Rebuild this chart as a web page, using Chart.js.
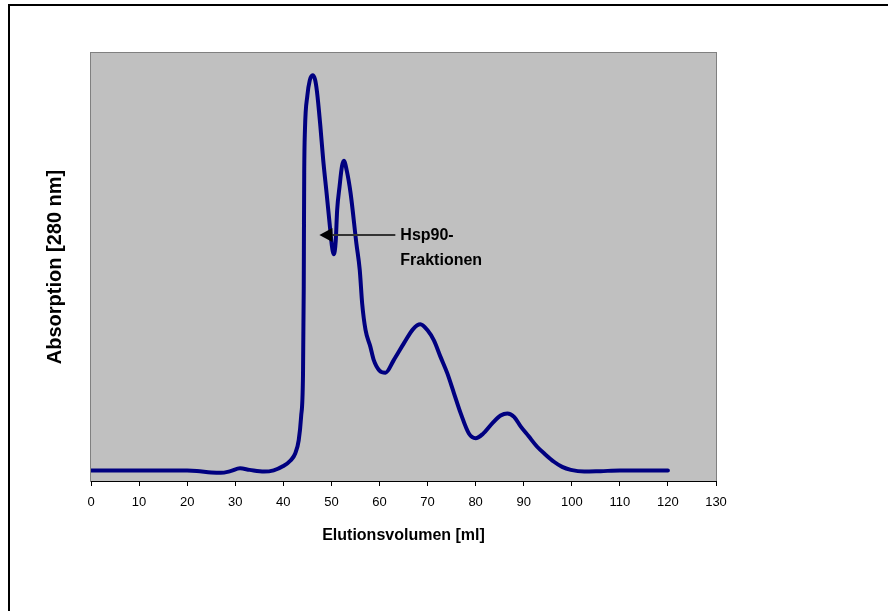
<!DOCTYPE html>
<html>
<head>
<meta charset="utf-8">
<script src="https://cdn.jsdelivr.net/npm/chart.js@4/dist/chart.umd.min.js"></script>
<style>
  html, body { margin: 0; padding: 0; background: #fff; }
  #wrap { width: 888px; height: 611px; position: relative; }
</style>
</head>
<body>
<div id="wrap"><canvas id="c" width="888" height="611"></canvas></div>
<script>
// ---- data ----
const elutionVolume = [0, 5, 10, 15, 20, 22, 25, 27, 29, 31, 33, 36, 38, 40, 41.5, 42.5, 43.2, 43.7, 44.1, 44.25, 44.3, 44.35, 44.5, 45, 45.5, 46.1, 46.6, 47, 47.7, 48.3, 49, 49.7, 50.1, 50.5, 50.9, 51.2, 51.7, 52.2, 52.6, 53.2, 54, 55.2, 55.9, 56.4, 57.1, 58.1, 58.8, 60, 61.25, 63, 65.1, 67, 68.5, 70, 71.3, 72.7, 74.1, 75.5, 76.9, 78.6, 80, 81.5, 83.5, 85.2, 86.6, 88, 89.4, 91, 92.8, 94.5, 96.3, 98, 99.8, 102.6, 106, 110, 115, 120];
const absorption    = [2.45, 2.45, 2.45, 2.45, 2.45, 2.35, 2.0, 1.9, 2.3, 2.95, 2.6, 2.2, 2.5, 3.5, 4.8, 6.5, 9.5, 15, 25, 45, 60, 72, 82, 90, 93.6, 94.8, 93.8, 91, 83, 75, 67.3, 59.4, 55, 53, 56, 63.3, 68.8, 73.5, 74.8, 72.5, 67.2, 55.5, 49.3, 41.5, 35.3, 31.4, 28.3, 25.8, 25.3, 28.3, 32.2, 35.5, 36.6, 35.2, 32.9, 29, 25.2, 20.5, 15.8, 11.1, 10, 11, 13.5, 15.3, 15.8, 15, 12.7, 10.5, 8.0, 6.2, 4.5, 3.3, 2.6, 2.2, 2.3, 2.45, 2.45, 2.45];
const xTickValues = [0, 10, 20, 30, 40, 50, 60, 70, 80, 90, 100, 110, 120, 130];
const xAxisTitle = 'Elutionsvolumen [ml]';
const yAxisTitle = 'Absorption [280 nm]';
const annotationLines = ['Hsp90-', 'Fraktionen'];
const arrowTip = [47.5, 57.5];   // data point the arrow points to (ml, absorption)
const arrowTail = [63.3, 57.5];

const points = elutionVolume.map((v, i) => ({ x: v, y: absorption[i] }));

const frame = {
  id: 'frame',
  beforeDraw(chart) {
    const ctx = chart.ctx;
    const a = chart.chartArea;
    ctx.save();
    ctx.fillStyle = '#ffffff';
    ctx.fillRect(0, 0, chart.width, chart.height);
    // outer border (top and left visible)
    ctx.fillStyle = '#000000';
    ctx.fillRect(8, 4, chart.width - 8, 2);
    ctx.fillRect(8, 4, 2, chart.height - 4);
    // plot area
    ctx.fillStyle = '#c0c0c0';
    ctx.fillRect(a.left, a.top, a.right - a.left, a.bottom - a.top);
    ctx.strokeStyle = '#808080';
    ctx.lineWidth = 1;
    ctx.strokeRect(a.left - 0.5, a.top - 0.5, a.right - a.left + 1, a.bottom - a.top + 1);
    ctx.restore();
  }
};

const annotation = {
  id: 'annotation',
  afterDatasetsDraw(chart) {
    const ctx = chart.ctx;
    const xs = chart.scales.x, ys = chart.scales.y;
    const tx = xs.getPixelForValue(arrowTip[0]);
    const ty = Math.round(ys.getPixelForValue(arrowTip[1]));
    const ex = xs.getPixelForValue(arrowTail[0]);
    ctx.save();
    ctx.strokeStyle = '#333333';
    ctx.lineWidth = 2;
    ctx.beginPath();
    ctx.moveTo(tx + 12, ty);
    ctx.lineTo(ex, ty);
    ctx.stroke();
    ctx.fillStyle = '#000000';
    ctx.beginPath();
    ctx.moveTo(tx, ty);
    ctx.lineTo(tx + 13, ty - 7);
    ctx.lineTo(tx + 13, ty + 7);
    ctx.closePath();
    ctx.fill();
    ctx.font = 'bold 16px "Liberation Sans", Arial, sans-serif';
    ctx.textBaseline = 'alphabetic';
    ctx.textAlign = 'left';
    ctx.fillText(annotationLines[0], ex + 5, ty + 5);
    ctx.fillText(annotationLines[1], ex + 5, ty + 30);
    ctx.restore();
  }
};

new Chart(document.getElementById('c'), {
  type: 'line',
  data: {
    datasets: [{
      data: points,
      borderColor: '#000080',
      borderWidth: 4,
      pointRadius: 0,
      fill: false,
      cubicInterpolationMode: 'monotone',
      borderCapStyle: 'round',
      borderJoinStyle: 'round'
    }]
  },
  options: {
    responsive: false,
    animation: false,
    devicePixelRatio: 1,
    layout: { padding: { left: 43, top: 53, right: 172, bottom: 66 } },
    plugins: { legend: { display: false }, tooltip: { enabled: false } },
    scales: {
      x: {
        type: 'linear',
        min: 0,
        max: 130,
        afterBuildTicks: (s) => { s.ticks = xTickValues.map(v => ({ value: v })); },
        afterFit: (s) => { s.height = 64; },
        grid: { display: true, drawOnChartArea: false, drawTicks: true, tickLength: 5, color: '#000000' },
        border: { display: true, color: '#000000', width: 1 },
        ticks: { color: '#000000', padding: 9, maxRotation: 0, autoSkip: false,
                 font: { family: '"Liberation Sans", Arial, sans-serif', size: 13 } },
        title: { display: true, text: xAxisTitle, color: '#000000', padding: 0,
                 font: { family: '"Liberation Sans", Arial, sans-serif', size: 16, weight: 'bold' } }
      },
      y: {
        type: 'linear',
        min: 0,
        max: 100,
        afterFit: (s) => { s.width = 48; },
        grid: { display: false },
        border: { display: false },
        ticks: { display: false },
        title: { display: true, text: yAxisTitle, color: '#000000', padding: 0,
                 font: { family: '"Liberation Sans", Arial, sans-serif', size: 20, weight: 'bold' } }
      }
    }
  },
  plugins: [frame, annotation]
});
</script>
</body>
</html>
